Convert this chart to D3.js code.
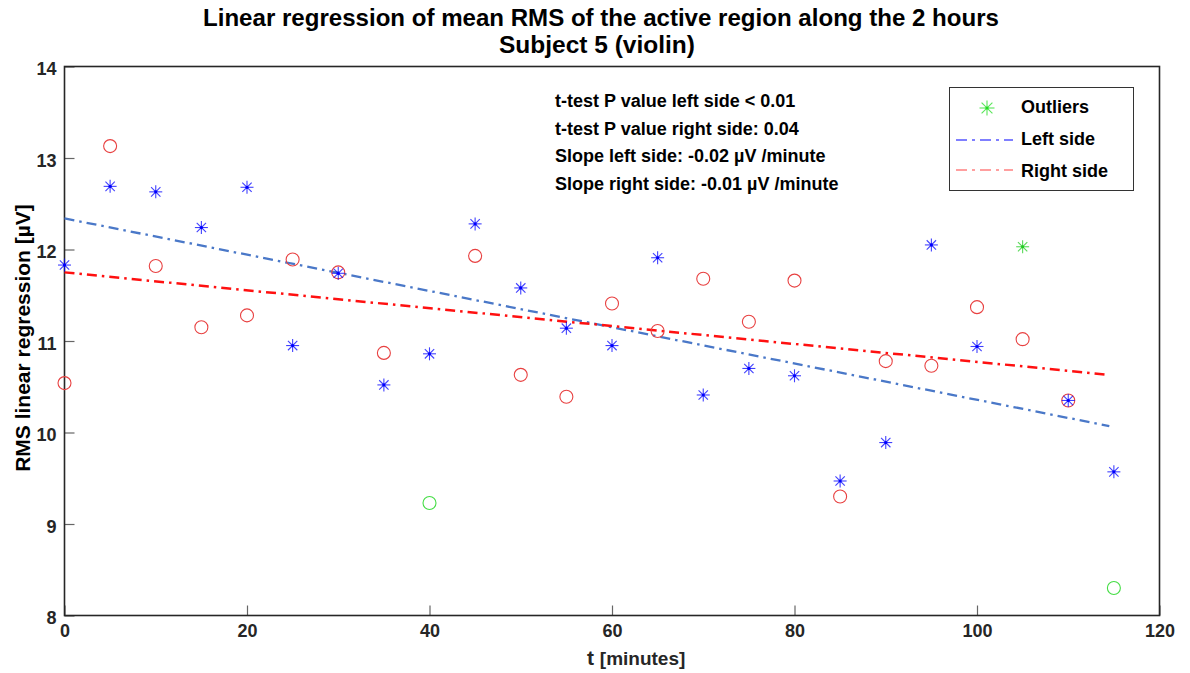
<!DOCTYPE html>
<html><head><meta charset="utf-8">
<script src="https://cdn.jsdelivr.net/npm/d3@7"></script>
<style>body{margin:0;background:#fff;} text{font-family:"Liberation Sans",Arial,sans-serif;font-weight:bold;}</style>
</head><body><svg id="c" width="1190" height="673"></svg>
<script>
const times = [0,5,10,15,20,25,30,35,40,45,50,55,60,65,70,75,80,85,90,95,100,105,110,115];
const leftVals = [11.83,12.69,12.63,12.24,12.68,10.95,11.74,10.52,10.86,12.28,11.58,11.14,10.95,11.91,10.41,10.70,10.62,9.47,9.89,12.05,10.94,null,10.35,9.57];
const rightVals = [10.54,13.13,11.82,11.15,11.28,11.89,11.75,10.87,null,11.93,10.63,10.39,11.41,11.11,11.68,11.21,11.66,9.30,10.78,10.73,11.37,11.02,10.35,null];
const outlierLeftT = [105], outlierLeftV = [12.03];
const outlierRightT = [40,115], outlierRightV = [9.23,8.30];
const fitT = [0,114.5];
const fitLeft = [12.34,10.07];
const fitRight = [11.75,10.63];
const xTicks = [0,20,40,60,80,100,120];
const yTicks = [8,9,10,11,12,13,14];
const titleLines = ["Linear regression of mean RMS of the active region along the 2 hours","Subject 5 (violin)"];
const notes = ["t-test P value left side < 0.01","t-test P value right side: 0.04","Slope left side: -0.02 µV /minute","Slope right side: -0.01 µV /minute"];
const legendItems = ["Outliers","Left side","Right side"];

const svg = d3.select("#c");
const L=64.5, R=1159.5, T=66.5, B=615.5;
const x = d3.scaleLinear().domain([0,120]).range([L,R]);
const y = d3.scaleLinear().domain([8,14]).range([B,T]);

// axes
const xa = svg.append("g").attr("transform",`translate(0,${B})`).call(d3.axisBottom(x).tickValues(xTicks).tickFormat(d3.format("d")).tickSize(-10).tickPadding(12));
const ya = svg.append("g").attr("transform",`translate(${L},0)`).call(d3.axisLeft(y).tickValues(yTicks).tickFormat(d3.format("d")).tickSize(-10).tickPadding(8));
[xa,ya].forEach(a=>{
  a.select(".domain").remove();
  a.selectAll(".tick line").attr("stroke","#666").attr("stroke-width",1.2);
  a.selectAll(".tick text").attr("fill","#262626").style("font-size","18px").style("font-family","Liberation Sans, Arial, sans-serif").style("font-weight","bold");
});
ya.selectAll(".tick text").attr("dy","0.45em");
xa.selectAll(".tick text").attr("dy","0.55em");
// box
svg.append("rect").attr("x",L).attr("y",T).attr("width",R-L).attr("height",B-T).attr("fill","none").attr("stroke","#262626").attr("stroke-width",1.6);

// fit lines
const fitLine = d3.line().x(d=>x(d[0])).y(d=>y(d[1]));
svg.append("path").datum(fitT.map((t,i)=>[t,fitLeft[i]])).attr("d",fitLine).attr("fill","none").attr("stroke","#4a78c8").attr("stroke-width",2.3).attr("stroke-dasharray","10,5,2.5,5");
svg.append("path").datum(fitT.map((t,i)=>[t,fitRight[i]])).attr("d",fitLine).attr("fill","none").attr("stroke","#ff1010").attr("stroke-width",2.5).attr("stroke-dasharray","10,5,2.5,5");

function star(g,cx,cy,col,s){
  const gg=g.append("g").attr("transform",`translate(${cx},${cy})`);
  const r=s/2, d=r*0.72;
  [[-r,0,r,0],[0,-r,0,r],[-d,-d,d,d],[-d,d,d,-d]].forEach(p=>gg.append("line").attr("x1",p[0]).attr("y1",p[1]).attr("x2",p[2]).attr("y2",p[3]).attr("stroke",col).attr("stroke-width",1.1).attr("stroke-opacity",0.75));
  gg.append("circle").attr("r",1.6).attr("fill",col);
}
const pts = svg.append("g");
times.forEach((t,i)=>{ if(rightVals[i]!=null) pts.append("circle").attr("cx",x(t)).attr("cy",y(rightVals[i])).attr("r",6.5).attr("fill","none").attr("stroke","#e84040").attr("stroke-width",1.1); });
outlierRightT.forEach((t,i)=>pts.append("circle").attr("cx",x(t)).attr("cy",y(outlierRightV[i])).attr("r",6.5).attr("fill","none").attr("stroke","#44dd44").attr("stroke-width",1.1));
times.forEach((t,i)=>{ if(leftVals[i]!=null) star(pts,x(t),y(leftVals[i]),"#0000ff",13); });
outlierLeftT.forEach((t,i)=>star(pts,x(t),y(outlierLeftV[i]),"#22cc22",13));

// title
svg.append("text").attr("x",601).attr("y",26).attr("text-anchor","middle").style("font-size","24px").attr("fill","#000").attr("textLength",796).attr("lengthAdjust","spacingAndGlyphs").text(titleLines[0]);
svg.append("text").attr("x",597).attr("y",53).attr("text-anchor","middle").style("font-size","24px").attr("fill","#000").attr("textLength",196).attr("lengthAdjust","spacingAndGlyphs").text(titleLines[1]);

// notes
notes.forEach((s,i)=>svg.append("text").attr("x",555).attr("y",107+i*27.7).style("font-size","18px").attr("fill","#000").text(s));

// axis labels
const xl = svg.append("text").attr("x",587).attr("y",665).attr("fill","#262626");
xl.append("tspan").style("font-size","21px").text("t ");
xl.append("tspan").style("font-size","19px").text("[minutes]");
svg.append("text").attr("transform","translate(30,338) rotate(-90)").attr("text-anchor","middle").style("font-size","21px").attr("fill","#000").text("RMS linear regression [µV]");

// legend
const lg = svg.append("g");
lg.append("rect").attr("x",949.5).attr("y",87.5).attr("width",184).attr("height",103).attr("fill","#fff").attr("stroke","#333").attr("stroke-width",1);
star(lg,987,108,"#22dd22",15);
lg.append("line").attr("x1",956).attr("x2",1013).attr("y1",140).attr("y2",140).attr("stroke","#0000ff").attr("stroke-width",1.2).attr("stroke-dasharray","11,5,3,5");
lg.append("line").attr("x1",956).attr("x2",1013).attr("y1",170).attr("y2",170).attr("stroke","#ff4040").attr("stroke-width",1.2).attr("stroke-dasharray","11,5,3,5");
legendItems.forEach((s,i)=>lg.append("text").attr("x",1021).attr("y",113+i*32).style("font-size","18px").attr("fill","#000").text(s));
</script></body></html>
